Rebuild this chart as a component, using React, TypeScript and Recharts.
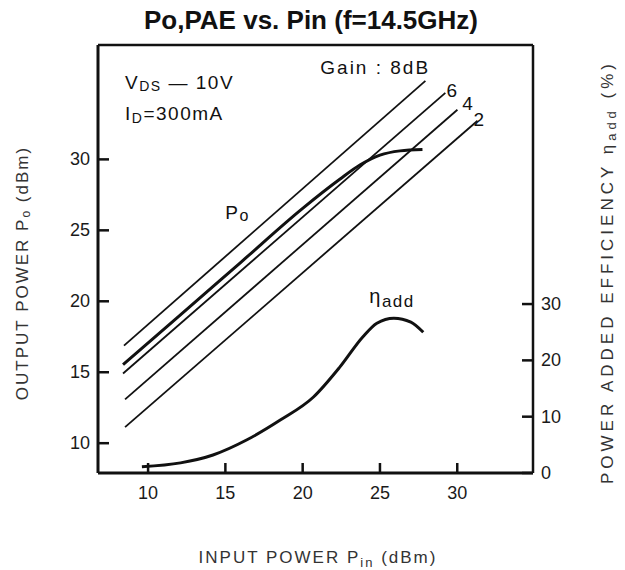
import React from "react";
import { ComposedChart, Line, XAxis, YAxis, ReferenceLine, ReferenceDot } from "recharts";

const INK = "#111";
const FONT = "'Liberation Sans', Arial, sans-serif";

const pinTicks = [10, 15, 20, 25, 30];
const poutTicks = [10, 15, 20, 25, 30];
const paeTicks = [0, 10, 20, 30];

// constant gain guide lines, read at both ends
const gain8 = [{ pin: 8.44, pout: 16.88 }, { pin: 27.94, pout: 35.53 }];
const gain6 = [{ pin: 8.38, pout: 14.91 }, { pin: 29.23, pout: 34.69 }];
const gain4 = [{ pin: 8.51, pout: 13.09 }, { pin: 30.01, pout: 33.5 }];
const gain2 = [{ pin: 8.51, pout: 11.13 }, { pin: 31.31, pout: 32.72 }];

// output power curve (dBm)
const poCurve = [
  { pin: 8.38, pout: 15.54 },
  { pin: 12, pout: 18.95 },
  { pin: 16, pout: 22.75 },
  { pin: 20, pout: 26.55 },
  { pin: 22.4, pout: 28.6 },
  { pin: 23.7, pout: 29.6 },
  { pin: 25.0, pout: 30.3 },
  { pin: 26.3, pout: 30.6 },
  { pin: 27.75, pout: 30.7 },
];

// power added efficiency (%)
const paeCurve = [
  { pin: 9.6, pae: 1.1 },
  { pin: 12.1, pae: 1.8 },
  { pin: 14.2, pae: 3.2 },
  { pin: 16.4, pae: 5.9 },
  { pin: 18.55, pae: 9.4 },
  { pin: 20.7, pae: 13.5 },
  { pin: 22.4, pae: 18.8 },
  { pin: 23.9, pae: 24.2 },
  { pin: 24.8, pae: 26.6 },
  { pin: 25.9, pae: 27.5 },
  { pin: 27.0, pae: 26.8 },
  { pin: 27.8, pae: 25.0 },
];

// where the in-plot notes sit (left / baseline, in data units)
const notes = [
  { id: "vds", pin: 8.51, pout: 34.97 },
  { id: "id", pin: 8.51, pout: 32.8 },
  { id: "gain", pin: 21.14, pout: 36.02 },
  { id: "g6", pin: 29.3, pout: 34.41 },
  { id: "g4", pin: 30.33, pout: 33.5 },
  { id: "g2", pin: 31.05, pout: 32.37 },
  { id: "po", pin: 14.99, pout: 25.78 },
  { id: "eta", pin: 24.31, pout: 19.9 },
];

const noteText = (id: string) => {
  switch (id) {
    case "vds":
      return (
        <>
          <tspan>V</tspan>
          <tspan fontSize={14} dy={2}>DS</tspan>
          <tspan dy={-2}> — 10V</tspan>
        </>
      );
    case "id":
      return (
        <>
          <tspan>I</tspan>
          <tspan fontSize={14} dy={3}>D</tspan>
          <tspan dy={-3}>=300mA</tspan>
        </>
      );
    case "gain":
      return <tspan letterSpacing={2}>Gain : 8dB</tspan>;
    case "g6":
      return "6";
    case "g4":
      return "4";
    case "g2":
      return "2";
    case "po":
      return (
        <>
          <tspan>P</tspan>
          <tspan fontSize={16} dy={2}>o</tspan>
        </>
      );
    case "eta":
      return (
        <>
          <tspan fontSize={20}>η</tspan>
          <tspan fontSize={17} dy={4}>add</tspan>
        </>
      );
  }
  return null;
};

const noteLabel = (id: string) => (props: any) => {
  const vb = props.viewBox || {};
  const x = (vb.x || 0) + (vb.width || 0) / 2;
  const y = (vb.y || 0) + (vb.height || 0) / 2;
  return (
    <text x={x} y={y} fontSize={19} letterSpacing={1.5} fill={INK} fontFamily={FONT}>
      {noteText(id)}
    </text>
  );
};

// each tick draws its own inward mark plus its label
const LeftTick = (p: any) => (
  <g>
    <line x1={p.x} x2={p.x + 11} y1={p.y} y2={p.y} stroke={INK} strokeWidth={2.5} />
    <text x={p.x - 8} y={p.y} textAnchor="end" dominantBaseline="central" fontSize={18} fill="#1a1a1a" fontFamily={FONT}>
      {p.payload.value}
    </text>
  </g>
);

const RightTick = (p: any) => (
  <g>
    <line x1={p.x - 11} x2={p.x} y1={p.y} y2={p.y} stroke={INK} strokeWidth={2.5} />
    <text x={p.x + 8} y={p.y} textAnchor="start" dominantBaseline="central" fontSize={18} fill="#1a1a1a" fontFamily={FONT}>
      {p.payload.value}
    </text>
  </g>
);

const BottomTick = (p: any) => (
  <g>
    <line x1={p.x} x2={p.x} y1={p.y} y2={p.y - 10} stroke={INK} strokeWidth={2.5} />
    <text x={p.x} y={p.y + 20} textAnchor="middle" dominantBaseline="central" fontSize={18} fill="#1a1a1a" fontFamily={FONT}>
      {p.payload.value}
    </text>
  </g>
);

const guide = (data: { pin: number; pout: number }[], key: string) => (
  <Line
    key={key}
    data={data}
    dataKey="pout"
    yAxisId="po"
    type="linear"
    stroke={INK}
    strokeWidth={1.8}
    dot={false}
    activeDot={false}
    isAnimationActive={false}
  />
);

export default function App() {
  return (
    <div style={{ position: "absolute", left: 0, top: 0, width: 625, height: 570, background: "#fff" }}>
      <ComposedChart width={625} height={570} margin={{ top: 45, right: 0, bottom: 67, left: 0 }}>
        <XAxis
          type="number"
          dataKey="pin"
          domain={[6.76, 34.9]}
          ticks={pinTicks}
          height={30}
          tickSize={0}
          tickMargin={0}
          tick={<BottomTick />}
          axisLine={{ stroke: INK, strokeWidth: 3 }}
        />
        <YAxis
          yAxisId="po"
          type="number"
          domain={[7.9, 38.06]}
          ticks={poutTicks}
          width={98}
          tickSize={0}
          tickMargin={0}
          tick={<LeftTick />}
          axisLine={{ stroke: INK, strokeWidth: 3 }}
        />
        <YAxis
          yAxisId="pae"
          orientation="right"
          type="number"
          domain={[0, 76]}
          ticks={paeTicks}
          width={92}
          tickSize={0}
          tickMargin={0}
          tick={<RightTick />}
          axisLine={{ stroke: INK, strokeWidth: 2.5 }}
        />
        <ReferenceLine yAxisId="po" y={38.06} stroke={INK} strokeWidth={2.5} />
        {guide(gain8, "g8")}
        {guide(gain6, "g6")}
        {guide(gain4, "g4")}
        {guide(gain2, "g2")}
        <Line
          data={poCurve}
          dataKey="pout"
          yAxisId="po"
          type="monotone"
          stroke={INK}
          strokeWidth={3}
          dot={false}
          activeDot={false}
          isAnimationActive={false}
        />
        <Line
          data={paeCurve}
          dataKey="pae"
          yAxisId="pae"
          type="monotone"
          stroke={INK}
          strokeWidth={3}
          dot={false}
          activeDot={false}
          isAnimationActive={false}
        />
        {notes.map((n) => (
          <ReferenceDot
            key={n.id}
            x={n.pin}
            y={n.pout}
            yAxisId="po"
            r={0}
            fill="none"
            stroke="none"
            label={{ content: noteLabel(n.id) }}
          />
        ))}
      </ComposedChart>
      <svg width={625} height={570} style={{ position: "absolute", left: 0, top: 0, pointerEvents: "none" }}>
        <text x={311} y={29} textAnchor="middle" fontSize={26} fontWeight="bold" fill={INK} fontFamily={FONT}>
          Po,PAE vs. Pin (f=14.5GHz)
        </text>
        <text
          transform="translate(22,273) rotate(-90)"
          textAnchor="middle"
          dominantBaseline="central"
          fontSize={17}
          letterSpacing={2}
          fill="#333"
          fontFamily={FONT}
        >
          OUTPUT POWER P<tspan fontSize={12} dy={4}>o</tspan>
          <tspan dy={-4}> (dBm)</tspan>
        </text>
        <text x={318} y={563} textAnchor="middle" fontSize={17} letterSpacing={2} fill="#333" fontFamily={FONT}>
          INPUT POWER P<tspan fontSize={13} dy={4}>in</tspan>
          <tspan dy={-4}> (dBm)</tspan>
        </text>
        <text
          transform="translate(607,272) rotate(-90)"
          textAnchor="middle"
          dominantBaseline="central"
          fontSize={17}
          letterSpacing={4}
          fill="#333"
          fontFamily={FONT}
        >
          POWER ADDED EFFICIENCY η<tspan fontSize={13} dy={4}>add</tspan>
          <tspan dy={-4}> (%)</tspan>
        </text>
      </svg>
    </div>
  );
}
